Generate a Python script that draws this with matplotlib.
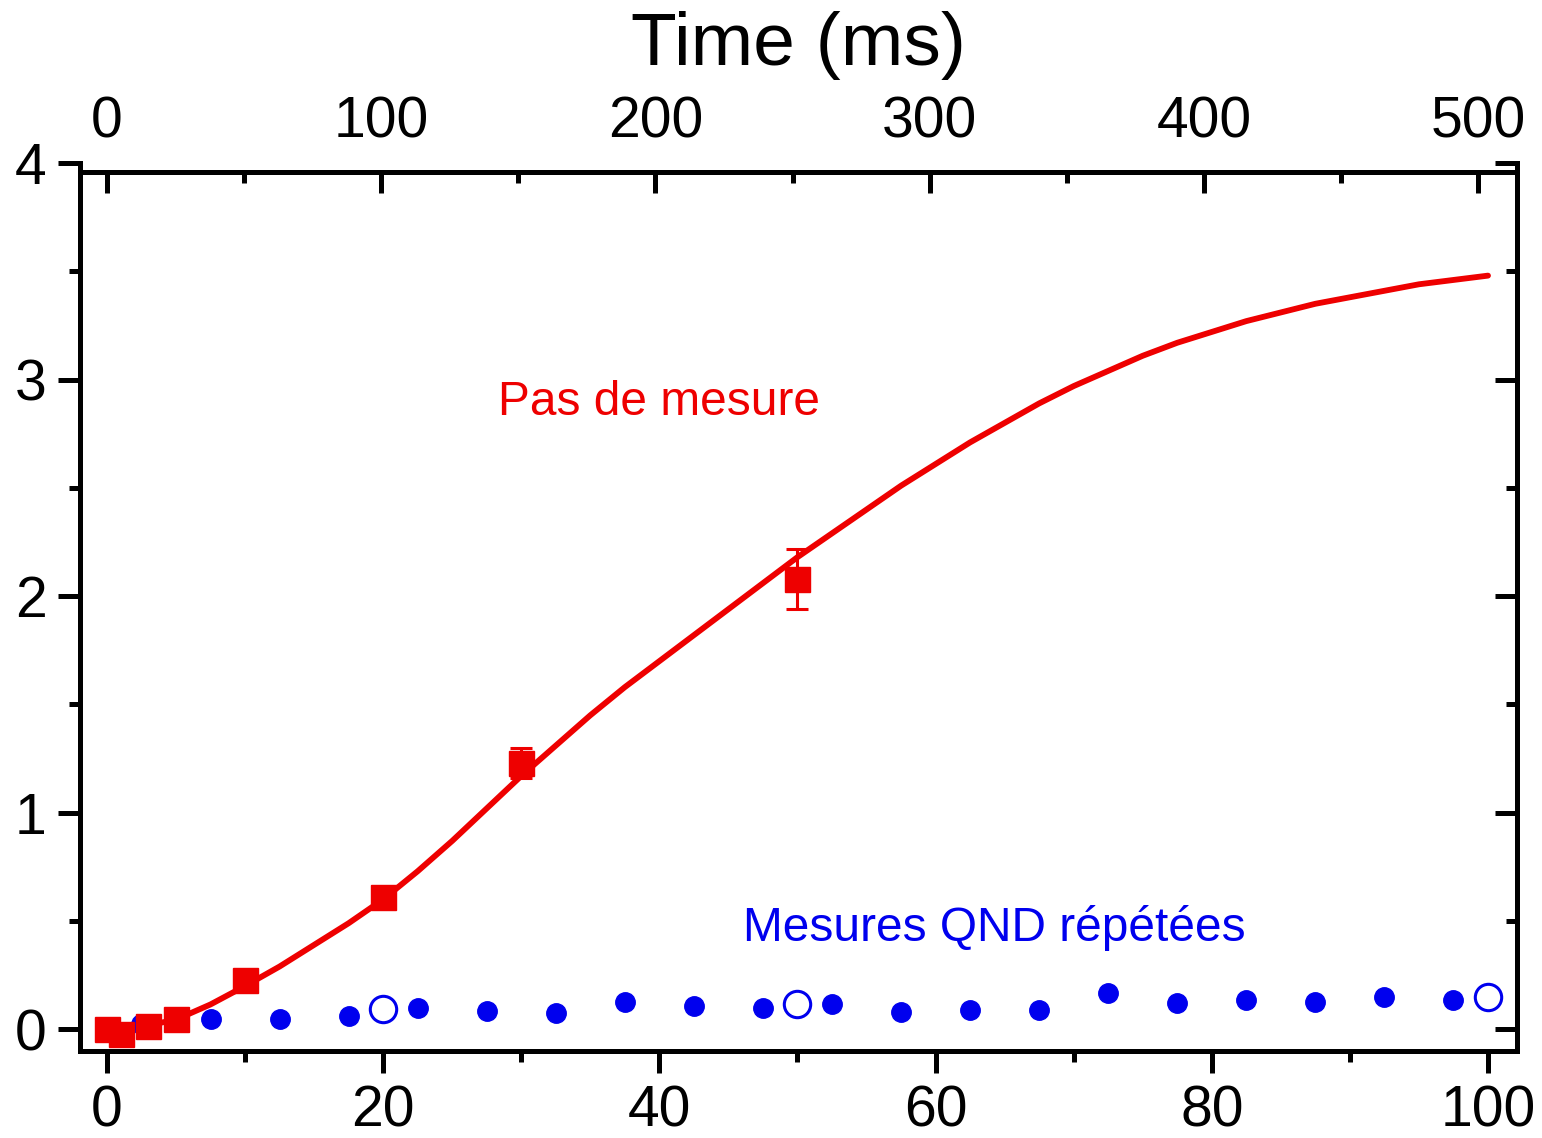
import matplotlib
matplotlib.use("Agg")
import matplotlib.pyplot as plt
from matplotlib.ticker import MultipleLocator

plt.rcParams['font.family'] = ['Liberation Sans', 'DejaVu Sans']

# ---- data ----
red_x = [0, 1, 3, 5, 10, 20, 30, 50]
red_y = [0.0, -0.02, 0.015, 0.05, 0.23, 0.61, 1.23, 2.08]
red_err = [0.02, 0.02, 0.02, 0.02, 0.03, 0.04, 0.07, 0.14]

fit_x = [0, 2.5, 5, 7.5, 10, 12.5, 15, 17.5, 20, 22.5, 25, 27.5, 30, 32.5,
         35, 37.5, 40, 42.5, 45, 47.5, 50, 52.5, 55, 57.5, 60, 62.5, 65,
         67.5, 70, 72.5, 75, 77.5, 80, 82.5, 85, 87.5, 90, 92.5, 95, 97.5,
         100]
fit_y = [0.0, 0.012, 0.045, 0.115, 0.20, 0.29, 0.39, 0.49, 0.60, 0.73,
         0.87, 1.02, 1.17, 1.31, 1.45, 1.58, 1.70, 1.82, 1.94, 2.06, 2.18,
         2.29, 2.40, 2.51, 2.61, 2.71, 2.80, 2.89, 2.97, 3.04, 3.11, 3.17,
         3.22, 3.27, 3.31, 3.35, 3.38, 3.41, 3.44, 3.46, 3.48]

blue_x = [2.5, 7.5, 12.5, 17.5, 22.5, 27.5, 32.5, 37.5, 42.5, 47.5,
          52.5, 57.5, 62.5, 67.5, 72.5, 77.5, 82.5, 87.5, 92.5, 97.5]
blue_y = [0.023, 0.05, 0.05, 0.06, 0.10, 0.083, 0.074, 0.125, 0.11, 0.10,
          0.115, 0.08, 0.09, 0.09, 0.17, 0.12, 0.135, 0.125, 0.15, 0.135]

open_x = [20, 50, 100]
open_y = [0.093, 0.115, 0.15]

bottom_ticks = [0, 20, 40, 60, 80, 100]
left_ticks = [0, 1, 2, 3, 4]
top_ticks = [0, 100, 200, 300, 400, 500]

RED = '#ee0000'
BLUE = '#0000ee'

W, H = 1542, 1138
fig = plt.figure(figsize=(W / 100, H / 100), dpi=100)

l = 80 / W
r = 1517 / W
b = 1 - 1051 / H
t = 1 - 163 / H
t_top = 1 - 172 / H

ax = fig.add_axes([l, b, r - l, t - b])
ax.set_xlim(-1.95, 102.1)
ax.set_ylim(-0.1, 4.0)

# fit curve
ax.plot(fit_x, fit_y, color=RED, lw=4.2, zorder=3,
        solid_joinstyle='round', solid_capstyle='round')
# red data
ax.errorbar(red_x, red_y, yerr=red_err, fmt='s', color=RED, ms=18,
            elinewidth=2.2, capsize=8, capthick=2.2, zorder=4)
# blue data
ax.plot(blue_x, blue_y, 'o', color=BLUE, ms=14, zorder=4)
ax.plot(open_x, open_y, 'o', mfc='none', mec=BLUE, mew=2.2, ms=19, zorder=4)

# text labels
ax.text(40, 2.835, 'Pas de mesure', color=RED, fontsize=34.5,
        ha='center', va='baseline')
ax.text(64.25, 0.407, 'Mesures QND répétées', color=BLUE, fontsize=34.5,
        ha='center', va='baseline')

# spines / ticks of main axes
for s in ['left', 'bottom', 'right']:
    ax.spines[s].set_linewidth(3.6)
ax.spines['top'].set_visible(False)
ax.set_xticks(bottom_ticks)
ax.set_yticks(left_ticks)
ax.xaxis.set_minor_locator(MultipleLocator(10))
ax.yaxis.set_minor_locator(MultipleLocator(0.5))
ax.tick_params(axis='both', which='major', direction='out', length=16,
               width=3.6, labelsize=41, top=False, right=False)
ax.tick_params(axis='both', which='minor', direction='out', length=8,
               width=3.6, top=False, right=False)
ax.tick_params(axis='x', which='major', pad=8)
ax.tick_params(axis='y', which='major', pad=8)

# right side ticks (inward)
ax_r = ax.twinx()
ax_r.set_ylim(ax.get_ylim())
ax_r.set_yticks(left_ticks)
ax_r.yaxis.set_minor_locator(MultipleLocator(0.5))
for s in ax_r.spines.values():
    s.set_visible(False)
ax_r.tick_params(axis='y', which='major', direction='in', length=16,
                 width=3.6, labelright=False)
ax_r.tick_params(axis='y', which='minor', direction='in', length=8,
                 width=3.6)

# top axis (Time in ms)
ax_t = fig.add_axes([l, b, r - l, t_top - b], facecolor='none')
ax_t.set_xlim(-9.85, 514.2)
ax_t.set_ylim(0, 1)
for s in ['left', 'right', 'bottom']:
    ax_t.spines[s].set_visible(False)
ax_t.spines['top'].set_linewidth(3.6)
ax_t.set_yticks([])
ax_t.xaxis.set_ticks_position('top')
ax_t.xaxis.set_label_position('top')
ax_t.set_xticks(top_ticks)
ax_t.xaxis.set_minor_locator(MultipleLocator(50))
ax_t.tick_params(axis='x', which='major', direction='in', length=15,
                 width=3.6, labelsize=41, pad=16, bottom=False)
ax_t.tick_params(axis='x', which='minor', direction='in', length=8,
                 width=3.6, bottom=False)

fig.text(798 / W, 1 - 65 / H, 'Time (ms)', fontsize=54, ha='center',
         va='baseline')

fig.savefig('out.png', dpi=100)
